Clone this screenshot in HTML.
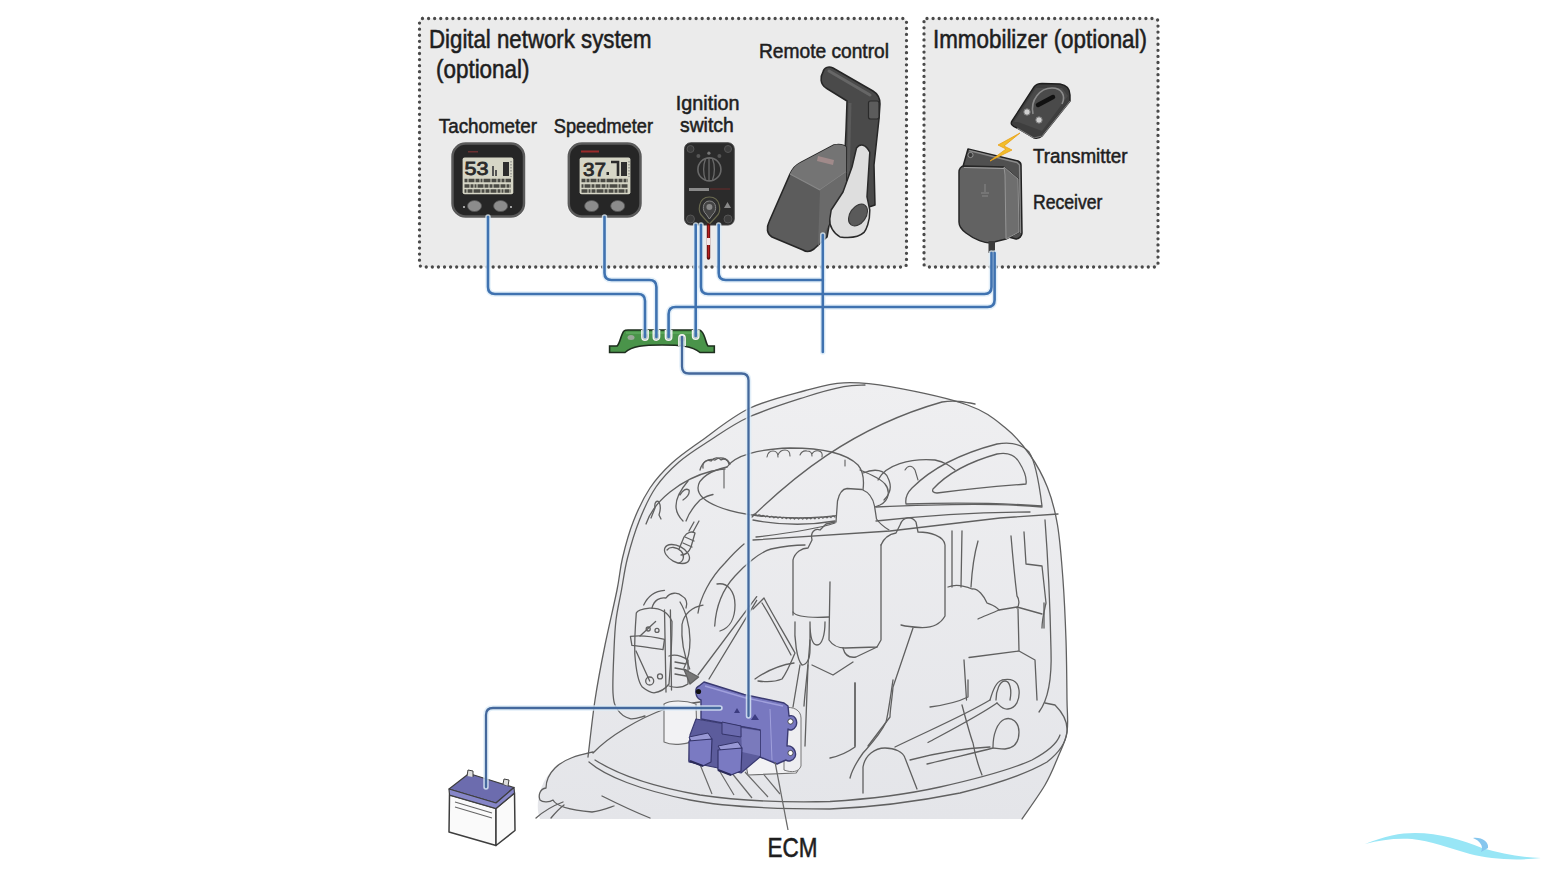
<!DOCTYPE html>
<html><head><meta charset="utf-8">
<style>
html,body{margin:0;padding:0;background:#fff;width:1560px;height:876px;overflow:hidden}
svg{display:block}
text{font-family:"Liberation Sans",sans-serif;fill:#1e1e1e;stroke:#1e1e1e;stroke-width:0.55px}
</style></head><body>
<svg width="1560" height="876" viewBox="0 0 1560 876">
<!-- boxes -->
<g id="boxes">
<rect x="419.5" y="18.5" width="487" height="248.5" rx="3" fill="#ebebeb" stroke="#4a4a4a" stroke-width="3.3" stroke-dasharray="0 6.08" stroke-linecap="round"/>
<rect x="924" y="18.5" width="234" height="248.5" rx="3" fill="#ebebeb" stroke="#4a4a4a" stroke-width="3.3" stroke-dasharray="0 6.08" stroke-linecap="round"/>
</g>

<!-- devices -->
<g id="tach">
<rect x="451" y="142" width="74.5" height="76" rx="14" fill="#fff" opacity="0.6"/>
<rect x="452.5" y="143.5" width="71.5" height="73" rx="13" fill="#262626" stroke="#5a5a5a" stroke-width="2.5"/>
<rect x="462.6" y="157.6" width="50.7" height="36.6" rx="2" fill="#d6d6c6"/>
<text x="464.5" y="175" font-size="18" style="fill:#2a2a2a;stroke:#2a2a2a;stroke-width:0.8px" textLength="24" lengthAdjust="spacingAndGlyphs">53</text>
<path d="M493 176 V166 M496 170 V176" stroke="#555" stroke-width="2" fill="none"/>
<rect x="503" y="162" width="6" height="14" fill="#2e2e2e"/>
<path d="M511 161 V177" stroke="#888" stroke-width="1.2" stroke-dasharray="1.5 1.5"/>
<g stroke="#4a4a44" stroke-width="3.6" fill="none">
<path d="M464.5 180.5 H511" stroke-dasharray="3 1 6 1 4 1 2 1 7 1 5 1 3 1"/>
<path d="M464.5 186 H511" stroke-dasharray="5 1 3 1 2 1 6 1 4 1 3 1 6 1"/>
<path d="M464.5 191 H511" stroke-dasharray="2 1 5 1 7 1 3 1 4 1 6 1 3 1"/>
</g>
<rect x="468" y="151" width="10" height="1.5" fill="#6a3030"/>
<ellipse cx="474.5" cy="206" rx="7" ry="5.5" fill="#8c8c8c" stroke="#555" stroke-width="0.8"/>
<ellipse cx="500.6" cy="206" rx="7" ry="5.5" fill="#8c8c8c" stroke="#555" stroke-width="0.8"/>
<circle cx="464" cy="207" r="1" fill="#ccc"/><circle cx="511" cy="207" r="1" fill="#ccc"/>
</g>
<g id="speedo">
<rect x="567" y="142" width="75" height="76" rx="14" fill="#fff" opacity="0.6"/>
<rect x="568.8" y="143.5" width="71.7" height="73" rx="13" fill="#262626" stroke="#5a5a5a" stroke-width="2.5"/>
<rect x="579.6" y="157.6" width="50.8" height="36.6" rx="2" fill="#d6d6c6"/>
<text x="583" y="175.5" font-size="18" style="fill:#2a2a2a;stroke:#2a2a2a;stroke-width:0.8px" textLength="23" lengthAdjust="spacingAndGlyphs">37</text>
<rect x="606.5" y="172" width="2.5" height="3" fill="#2a2a2a"/>
<path d="M611 162 H618 V176" stroke="#2a2a2a" stroke-width="2.6" fill="none"/>
<rect x="621" y="162" width="6" height="14" fill="#2e2e2e"/>
<path d="M629 161 V177" stroke="#888" stroke-width="1.2" stroke-dasharray="1.5 1.5"/>
<g stroke="#4a4a44" stroke-width="3.6" fill="none">
<path d="M581.5 180.5 H628" stroke-dasharray="4 1 3 1 6 1 2 1 5 1 7 1 3 1"/>
<path d="M581.5 186 H628" stroke-dasharray="2 1 6 1 3 1 5 1 4 1 2 1 8 1"/>
<path d="M581.5 191 H628" stroke-dasharray="6 1 2 1 4 1 7 1 3 1 5 1 3 1"/>
</g>
<rect x="581" y="150.5" width="18" height="2" fill="#9a2a2a"/>
<ellipse cx="591.6" cy="206" rx="7" ry="5.5" fill="#8c8c8c" stroke="#555" stroke-width="0.8"/>
<ellipse cx="617.7" cy="206" rx="7" ry="5.5" fill="#8c8c8c" stroke="#555" stroke-width="0.8"/>
</g>
<g id="ign">
<rect x="684.6" y="142.8" width="49.6" height="82.2" rx="6" fill="#2b2b2b" stroke="#444" stroke-width="1"/>
<circle cx="709.4" cy="169.4" r="11.5" fill="none" stroke="#6a6a6a" stroke-width="1.6"/>
<path d="M705.5 159 C703 165 703 174 705.5 180 M712.5 159 C715 165 715 174 712.5 180 M709 158 V181" stroke="#6a6a6a" stroke-width="1.3" fill="none"/>
<circle cx="698.4" cy="156" r="2" fill="#555"/><circle cx="708.9" cy="153.2" r="1.6" fill="#777"/><circle cx="719.4" cy="156" r="2" fill="#555"/>
<circle cx="690.5" cy="149" r="3.5" fill="#3c3c3c" stroke="#555"/>
<circle cx="728" cy="149" r="3.5" fill="#3c3c3c" stroke="#555"/>
<circle cx="690.5" cy="219" r="4" fill="#3c3c3c" stroke="#555"/>
<circle cx="728" cy="219" r="4" fill="#3c3c3c" stroke="#555"/>
<rect x="689" y="188" width="20" height="3" fill="#8a8a8a"/>
<rect x="710" y="188" width="20" height="2" fill="#4a2a2a"/>
<path d="M709.4 197 C698 197 697 212 703 217 L709.4 224 L716 217 C722 212 721 197 709.4 197Z" fill="#2e2e2e" stroke="#6a6a50" stroke-width="1.2"/>
<path d="M709.4 201 C702 201 702 211 706 214 L709.4 219 L713 214 C717 211 717 201 709.4 201Z" fill="#444" stroke="#888" stroke-width="1"/>
<circle cx="709.4" cy="207" r="3" fill="#888"/>
<path d="M724 208 L727.5 202 L731 208Z" fill="#888"/>
</g>
<g id="remote" stroke-linejoin="round">
<path d="M823 72 C824 67 829 66 833 68 L873 91 C878 94 880 99 880 104 L879 119 L874 165 L875 205 L866 208 L843 192 L846 130 L847 101 L826 88 C820 84 820 77 823 72 Z" fill="#4a4a4a" stroke="#262626" stroke-width="1.5"/>
<path d="M829 71 L870 95" stroke="#666" stroke-width="3" stroke-linecap="round"/>
<path d="M850 103 L848 185" stroke="#5a5a5a" stroke-width="3"/>
<rect x="868.5" y="101" width="10.5" height="18" rx="2" fill="#5c5c5c" stroke="#2a2a2a" stroke-width="1.2"/>
<path d="M800 163 L834 145 C840 144 844 145 846 147 L846 185 L830 220 L827 237 L814 249 C810 252 806 252 803 250 L772 237 C767 234 766 228 769 222 L790 174 C793 168 796 165 800 163 Z" fill="#5c5c5c" stroke="#262626" stroke-width="1.6"/>
<path d="M800 163 L834 145 C840 144 844 145 846 147 L846 172 L820 190 L790 174 C793 168 796 165 800 163 Z" fill="#747474"/>
<path d="M790 174 L820 190 L846 172" stroke="#888" stroke-width="1.2" fill="none"/>
<path d="M820 190 L846 172 L846 185 L830 222 L818 247 Z" fill="#6a6a6a"/>
<path d="M818 156 L834 160 L833 165 L817 161 Z" fill="#a08a8a"/>
<path d="M856.5 148 C860 143 866 144 869.8 152.3 L867 196.8 L869.8 210 C870 222 866 230 864 232.4 C858 238 848 238 840 236.9 C834 234 829 226 829.8 219 L831.2 210 L843 192 L852 167 Z" fill="#dedede" stroke="#2a2a2a" stroke-width="1.5"/>
<ellipse cx="858" cy="215" rx="12" ry="8" transform="rotate(-55 858 215)" fill="#5a5a5a" stroke="#333" stroke-width="1"/>
</g>
<g id="transmitter" stroke-linejoin="round">
<path d="M1012 121 L1034 87 C1036 84 1039 83.5 1042 83.5 L1060 84 C1066 85 1070 89 1070 95 L1070 101 L1042 136 C1040 138 1037 138.5 1034 138 L1017 128 C1012 126 1010 124 1012 121Z" fill="#3e3e3e" stroke="#1e1e1e" stroke-width="1.4"/>
<path d="M1014 122 L1036 88 L1062 88 L1068 96 L1042 131 L1018 122 Z" fill="#4a4a4a"/>
<path d="M1033 114 C1030 100 1040 88 1052 88 C1062 88 1066 96 1062 104" fill="none" stroke="#8a8a8a" stroke-width="1.6"/>
<path d="M1038 105 L1053 97" stroke="#111" stroke-width="4.5" stroke-linecap="round"/>
<circle cx="1027" cy="112" r="3.2" fill="#cfcfcf" stroke="#777" stroke-width="1"/>
<circle cx="1039" cy="120" r="3.2" fill="#cfcfcf" stroke="#777" stroke-width="1"/>
<path d="M1017 128 L1034 138 L1042 136 L1070 101" fill="none" stroke="#777" stroke-width="1.2"/>
</g>
<g id="receiver" stroke-linejoin="round">
<path d="M968 149 L1018 161 C1020 162 1021 163 1021 165 L1022 233 C1022 236 1019 239 1016 239 L975 228 L962 170 Z" fill="#505050" stroke="#222" stroke-width="1.5"/>
<path d="M969 150.5 L1017 162.5 L1019.5 165 L1020.5 233" fill="none" stroke="#8a8a8a" stroke-width="1.3"/>
<circle cx="970.5" cy="155" r="2.6" fill="#3a3a3a" stroke="#999" stroke-width="0.9"/>
<circle cx="1014" cy="232.5" r="2.6" fill="#3a3a3a" stroke="#999" stroke-width="0.9"/>
<path d="M964 166 L1004 167 L1018 179 L1019 232 L1006 239 L990 243 C985 243 975 240 966 233 C962 230 959 227 959 222 L959 172 C959 169 961 166 964 166 Z" fill="#626262" stroke="#262626" stroke-width="1.5"/>
<path d="M1004 167 L1018 179 L1019 232 L1006 239 L1005 175 Z" fill="#6e6e6e" stroke="#9a9a9a" stroke-width="0.9"/>
<path d="M964 167.5 L1004 168.5" stroke="#a0a0a0" stroke-width="1.2" fill="none"/>
<path d="M985 184 L985 192 M981 193 L989 193 M982 196 L988 196" stroke="#888" stroke-width="1"/>
<rect x="988.5" y="241" width="6.5" height="12" fill="#3a3a3a"/>
<path d="M1020 133 L998 145 L1006 149 L990 161 L1012 150 L1004 146 Z" fill="#f2be2a" stroke="#e8a018" stroke-width="0.8"/>
</g>


<!-- engine -->
<defs><linearGradient id="cg" x1="0" y1="380" x2="0" y2="820" gradientUnits="userSpaceOnUse"><stop offset="0" stop-color="#efeff1"/><stop offset="1" stop-color="#e4e5e9"/></linearGradient></defs>
<g id="engine" fill="none" stroke="#606060" stroke-width="1.3" stroke-linecap="round" stroke-linejoin="round">
<path id="cowlfill" d="M588.0 757.0 C589.2 747.5 592.2 718.7 595.0 700.0 C597.8 681.3 601.3 663.3 605.0 645.0 C608.7 626.7 614.1 604.5 617.0 590.0 C619.9 575.5 619.8 569.5 622.5 558.0 C625.2 546.5 628.9 532.7 633.5 521.0 C638.1 509.3 643.6 497.7 650.0 488.0 C656.4 478.3 663.5 470.8 672.0 463.0 C680.5 455.2 688.2 450.1 701.0 441.0 C713.8 431.9 731.6 416.9 749.0 408.5 C766.4 400.1 789.6 394.8 805.4 390.5 C821.2 386.2 829.7 383.4 843.8 382.8 C857.9 382.2 869.4 383.0 890.0 386.7 C910.6 390.4 948.3 398.2 967.5 405.0 C986.7 411.8 994.6 419.2 1005.0 427.5 C1015.4 435.8 1022.9 445.0 1030.0 455.0 C1037.1 465.0 1042.9 475.8 1047.5 487.5 C1052.1 499.2 1054.9 509.6 1057.5 525.0 C1060.1 540.4 1061.6 560.8 1063.0 580.0 C1064.4 599.2 1065.3 620.0 1066.0 640.0 C1066.7 660.0 1066.8 684.7 1067.0 700.0 C1067.2 715.3 1068.5 722.5 1067.0 732.0 C1065.5 741.5 1061.7 748.2 1058.0 757.0 C1054.3 765.8 1051.0 774.7 1045.0 785.0 C1039.0 795.3 1025.8 813.3 1022.0 819.0 L652 819 L540 819 C537 812 537 800 540 792 C545 775 555 765 570 758 L589 752 Z" fill="url(#cg)" stroke="none"/>
<!-- outer cowl -->
<path d="M588.0 757.0 C589.2 747.5 592.2 718.7 595.0 700.0 C597.8 681.3 601.3 663.3 605.0 645.0 C608.7 626.7 614.1 604.5 617.0 590.0 C619.9 575.5 619.8 569.5 622.5 558.0 C625.2 546.5 628.9 532.7 633.5 521.0 C638.1 509.3 643.6 497.7 650.0 488.0 C656.4 478.3 663.5 470.8 672.0 463.0 C680.5 455.2 688.2 450.1 701.0 441.0 C713.8 431.9 731.6 416.9 749.0 408.5 C766.4 400.1 789.6 394.8 805.4 390.5 C821.2 386.2 829.7 383.4 843.8 382.8 C857.9 382.2 869.4 383.0 890.0 386.7 C910.6 390.4 948.3 398.2 967.5 405.0 C986.7 411.8 994.6 419.2 1005.0 427.5 C1015.4 435.8 1022.9 445.0 1030.0 455.0 C1037.1 465.0 1042.9 475.8 1047.5 487.5 C1052.1 499.2 1054.9 509.6 1057.5 525.0 C1060.1 540.4 1061.6 560.8 1063.0 580.0 C1064.4 599.2 1065.3 620.0 1066.0 640.0 C1066.7 660.0 1066.8 684.7 1067.0 700.0 C1067.2 715.3 1068.5 722.5 1067.0 732.0 C1065.5 741.5 1061.7 748.2 1058.0 757.0 C1054.3 765.8 1051.0 774.7 1045.0 785.0 C1039.0 795.3 1025.8 813.3 1022.0 819.0"/>
<path d="M645.0 716.0 C642.5 716.4 634.6 719.7 630.0 718.6 C625.4 717.5 620.3 713.8 617.5 709.5 C614.7 705.2 613.6 702.9 613.0 693.0 C612.4 683.1 613.5 662.2 614.0 650.0 C614.5 637.8 614.8 630.0 616.0 620.0 C617.2 610.0 619.6 600.3 621.5 590.0 C623.4 579.7 624.5 569.7 627.5 558.0 C630.5 546.3 634.8 531.8 639.5 520.0 C644.2 508.2 649.4 496.7 656.0 487.0 C662.6 477.3 670.2 469.7 679.0 462.0 C687.8 454.3 697.3 448.5 709.0 441.0 C720.7 433.5 732.9 424.3 749.0 417.0 C765.1 409.7 789.6 402.1 805.4 397.0 C821.2 391.9 833.9 388.7 843.8 386.7 C853.7 384.7 861.5 385.3 865.0 385.0"/>
<path d="M1045 520 C1048 560 1050 600 1051 650 C1052 680 1048 700 1039 712"/>
<!-- lower cowl rims -->
<path d="M595 760 C620 776 660 788 700 795 C740 801 790 802.5 830 801.5 C870 799 913 793 940 787 C980 778 1010 770 1032 760 C1047 752 1057 744 1060 735"/>
<path d="M589 762 C605 776 640 790 690 800 C720 806 760 809 830 809 C880 807 930 799 960 793 C1000 783 1030 772 1047 762 C1060 752 1066 742 1067 732 C1068 722 1062 712 1055 705 L1045 703"/>
<path d="M593 753 C609 736 640 718 665 709 C680 705 690 703 700 702"/>
<!-- tiller -->
<path d="M593 752 C580 755 565 758 555 768 C548 775 546 782 546 788 C540 789 538 795 540 800 C543 803 550 802 553 800 C556 806 570 810 592 812 C600 811 608 808 614 806"/>
<path d="M536 818 C545 810 555 805 563 802"/><path d="M551 818 C556 812 560 808 564 805"/><path d="M602 796 C620 805 635 812 650 818"/>
<!-- top diagonal -->
<!-- flywheel -->
<path d="M727 467 C712 470 698 478 698 488 C698 503 730 513 760 516 C800 520 850 518 880 505 C890 500 890 490 885 484 C880 478 870 474 860 470" fill="url(#cg)"/>
<path d="M727 467 C735 455 760 449 790 448 C820 448 845 452 858 465 C864 472 864 482 863 490"/>
<path d="M767 457 Q768 451 773 451 Q778 451 778 457 M778 455 Q780 450 785 450 Q790 450 790 456 M800 455 Q802 450 807 451 Q812 451 812 456 M812 454 Q814 450 819 451 Q823 452 822 457" stroke-width="1.1"/>
<path d="M700 470 C702 462 708 458 715 460 C720 456 727 458 730 464"/>
<path d="M724 470 L724 488 M845 460 L845 466" stroke-width="1.1"/>
<path d="M753 515 Q755.1 513.1 757.2 515.7 Q759.3 513.8 761.4 516.3 Q763.5 514.4 765.6 516.8 Q767.6 514.9 769.7 517.3 Q771.8 515.3 773.9 517.8 Q775.9 515.7 778.0 518.1 Q780.1 516.1 782.2 518.4 Q784.2 516.4 786.3 518.7 Q788.3 516.6 790.4 518.9 Q792.4 516.7 794.5 519.0 Q796.5 516.8 798.6 519.1 Q800.6 516.9 802.7 519.1 Q804.7 516.9 806.8 519.0 Q808.8 516.8 810.8 518.9 Q812.8 516.6 814.9 518.8 Q816.9 516.4 818.9 518.5 Q820.9 516.2 823.0 518.2 Q825.0 515.9 827.0 517.9 Q829.0 515.5 831.0 517.5 Q833.0 515.0 835.0 517.0" stroke-width="1.2"/>
<path d="M753 520 Q795 528 835 521"/>
<path d="M752 517 C790 480 850 428 942 402 C955 400 965 402 975 404"/>
<!-- tall block b top -->
<path d="M835 545 L836 522 L837.5 501 C839 494 842 489 847 488.5 L862 489.5 C868 492 873 498 874.5 506 L876.5 519 C880 524 884 527 889 530 L889 545 Z" fill="url(#cg)" stroke="none"/>
<path d="M836 522 L837.5 501 C839 494 842 489 847 488.5 L862 489.5 C868 492 873 498 874.5 506 L876.5 519 C880 524 884 527 889 530"/>
<path d="M863 473 C875 468 885 470 888 478 C892 486 890 494 884 500"/>
<!-- long lines -->
<path d="M753 540 L890 531 L1000 518 L1058 514"/>
<path d="M756 537 C790 533 820 528 835 523"/>
<path d="M876 507 C920 505 990 502 1042 507"/>
<path d="M876 521 C930 515 990 512 1030 512"/>
<!-- scoop -->
<path d="M906 504 C905 498 908 492 912 488 C930 470 955 455 997 444 C1010 442 1022 444 1029 452 C1036 462 1040 490 1042 506 C1000 503 940 503 906 504Z"/>
<path d="M933 489 C945 476 965 463 997 454 C1008 452 1015 455 1019 462 C1024 470 1027 478 1026 484 C1000 486 960 490 937 493 C933 493 932 491 933 489Z"/>
<path d="M878 480 C885 465 910 458 935 460 C945 462 950 466 955 470" />
<path d="M905 470 C908 465 912 465 915 470 L918 480" stroke-width="1.1"/>
<!-- cylinder a -->
<path d="M793 615 L793 560 C795 552 802 548 808 548 L812 540 C810 532 815 528 820 530 L826 524 L835 522"/>
<path d="M793 612 C796 617 808 618 829 617"/>
<path d="M795 622 C794 640 797 660 802 665 C806 665 810 660 810 650 L810 622 M810 622 C810 635 812 645 817 645 C822 645 825 635 825 622"/>
<path d="M800 665 L793 707 M808 665 L805 746"/>
<!-- block b -->
<path d="M830 582 L829 640 C833 646 840 648 845 648 L877 647 L881 640 L881 545"/>
<path d="M843 648 C845 656 850 658 856 657 L877 647"/>
<path d="M812 665 L833 675 L853 662 M855 683 L855 746"/>
<!-- cylinder c -->
<path d="M881 545 C884 538 890 534 896 533 L900 525 C903 516 912 516 916 522 L918 532 C930 532 944 536 945 545 L945 616 C940 625 930 628 920 627.5 C910 627 905 626 901 625"/>
<path d="M913 628 L893 687 C892 700 890 710 890 717 L868 746"/>
<path d="M952 531 L952 587 M962 531 L961 587"/>
<!-- right jagged block -->
<path d="M948 587 C955 584 965 586 972 589 C978 588 984 596 987 603 C992 605 996 606 999 610 C990 614 982 617 978 619"/>
<path d="M1011 536 C1013 560 1015 580 1017 596 C1020 600 1019 606 1017 608 M999 610 L1017 607 L1042 614"/>
<path d="M1024 532 L1026 564 L1042 566 L1046 603 C1044 612 1042 620 1042 628"/>
<path d="M1018 609 L1019 651 L969 657.5 M1019 651 L1035 660 L1037 700"/>
<path d="M964 660 L966.5 700 M1044 603 L1044 628"/>
<path d="M996 700 C996 690 1000 681 1005 681 C1010 681 1012 690 1010 700"/>
<path d="M971 587 C972 570 974 555 978 541"/>
<!-- hoses -->
<path d="M895 747 C930 730 965 715 990 700 M928 742.5 C955 728 980 715 997 703"/>
<path d="M990 700 C993 690 996 682 1002 680 C1010 678 1018 680 1019 690 C1020 700 1016 708 1008 709 C1003 710 1000 706 997 703"/>
<path d="M910 760 C940 752 970 748 990 747 M927 764 C950 758 975 753 993 748"/>
<path d="M993 747 C993 735 997 722 1005 719 C1012 717 1019 722 1019 732 C1019 742 1015 748 1005 749 C1000 749 995 748 993 748"/>
<path d="M962 705 C966 720 970 735 973 743 C975 755 978 765 982 775"/>
<path d="M930 707 C945 705 958 702 968 697 L968 680"/>
<!-- bottom block -->
<path d="M863 793 L863 767 C865 755 875 748 885 748 C895 748 903 752 905 758 L917 789"/>
<path d="M855 683 L855 747 C848 752 840 756 830 758"/>
<path d="M893 680 C890 700 888 715 886 722 C880 735 870 745 863 753 C858 760 852 770 850 778"/>
<!-- left parts -->
<path d="M646 524 C650 512 660 500 670 492 C685 480 700 474 712 471 C718 470 722 469 725 469"/>
<path d="M651 518 L655 508 C654 502 657 500 659 502 C661 506 660 512 659 515 L661 519"/>
<path d="M688 481 C682 488 676 498 676 506 C676 513 680 518 683 521 M680 495 C683 490 686 488 689 490 C690 494 686 498 683 500"/>
<path d="M686 521 C690 510 697 503 700 500 C705 497 710 495 713 494.5"/>
<path d="M703 468 C702 462 707 459 711 461 C714 457 719 457 721 460 C724 458 728 459 729 464"/>
<ellipse cx="677" cy="554" rx="13.5" ry="8" transform="rotate(28 677 554)"/>
<path d="M667 550 C670 546 677 547 681 551 C685 555 684 561 679 563"/>
<path d="M679 549 L684 537 C687 532 692 531 695 533 L691 547 C689 552 685 555 681 555"/>
<path d="M685 537 L694 541 M683 543 L692 547 M693 532 L699 521 M689 531 L694 522"/>
<!-- throttle body area -->
<path d="M649.7 608.2 C642 609 637 611 636.3 613 C635 630 634.5 645 634.8 654 C636 670 638 682 642.3 687 C646 690 650 692.5 654 692.8 C660 692 666 688 669 684 C671 660 672 640 672 621.5 C668 612 660 608 649.7 608.2Z"/>
<path d="M630.4 636.4 C640 635 655 637 664.5 639.3 L663 649.7 C650 648 640 646 631.9 645.3 Z"/>
<path d="M664.5 610 L666 692 M670.4 610 L671.5 690"/>
<circle cx="648.2" cy="629" r="2"/><circle cx="657" cy="630.4" r="2"/><circle cx="649.7" cy="681" r="4"/><circle cx="660" cy="676.4" r="2.5"/>
<path d="M636 651 L649.7 681 M655.6 621.5 L640 636"/>
<path d="M669 656 C675 654 682 656 688 660 L688 684 C682 688 675 688 669 686"/>
<path d="M675 662 L686 664 M675 668 L686 670 M675 674 L686 676"/>
<path d="M683.8 669 L698.6 677 L690 684 Z" fill="#777"/>
<path d="M643.7 605 C648 596 656 591 664.5 590.4 M652 608 C654 600 660 597 666 598 C670 592 678 592 682 596 C686 598 688 603 686 608"/>
<path d="M689.7 669 C684 655 681 640 682 624.5 C684 614 692 607 703 605.2"/>
<path d="M698 613 C700 598 710 578 725 563 C732 555 738 549 744 544"/>
<path d="M714.7 626 C716 605 722 590 735 576 C745 565 760 552 771 549 C785 546 798 545 805 545"/>
<path d="M698 675 L756.7 596.6 M709 679 L756.7 600.3"/>
<path d="M717 584 C728 582 735 592 735 605 C735 618 730 628 720 631"/>
<path d="M753 609 L764 598 C770 610 785 635 795 653 C790 665 785 675 782 679 C775 682 765 682 758 681"/>
<path d="M762 603 C770 615 783 640 791 655"/>
<path d="M680 602 C685 610 690 625 690 640 C690 650 688 660 684 668"/>
<path d="M755 679 C765 672 780 665 794 663"/>
<path d="M810 640 C808 670 805 690 804 706"/>
</g>

<!-- ecm -->
<g id="ecm" stroke-linejoin="round">
<path d="M664 704 C670 700 685 700 696 704 L697 738 C690 745 672 746 664 742 Z" fill="#f2f2f4" stroke="#707070" stroke-width="1.1"/>
<path d="M699 762 L712 794 M716 765 L734 795 M731 772 L752 798 M745 772 L768 797 M760 770 L780 794" stroke="#6a6a6a" stroke-width="1.2" fill="none"/>
<path d="M744 756 L792 760 C798 762 800 770 796 773 L748 775 Z" fill="#f2f2f4" stroke="#707070" stroke-width="1.1"/>
<path d="M784 708 C793 706 801 710 801 718 L801 766 C799 772 792 773 784 770 Z" fill="#eeeef1" stroke="#777" stroke-width="1"/>
<path d="M704 682 L744 694.5 L784 703 L788 706 L789 716 C795 714 798 721 796 726 C794 730 790 731 788 729 L787 746 C793 745 797 752 795 757 C793 761 788 762 786 760 L777 764 L760 757 L760 730 L701 719 L701 700 C695 698 694 688 699 686 Z" fill="#7878c0" stroke="#3a3a72" stroke-width="1.4"/>
<path d="M705 686 L744 697.5 L783 706" stroke="#a0a0dc" stroke-width="1.4" fill="none"/>
<path d="M770 709 L772 760" stroke="#a0a0dc" stroke-width="1" fill="none"/>
<path d="M696 719 L760 730 L760 757 L741 773 L718 768 L689 762 L690 735 Z" fill="#5c5c9c" stroke="#3a3a72" stroke-width="1.2"/>
<path d="M741 728 L760 731 L760 756 L742 752 Z" fill="#7a7abc"/>
<path d="M722 722 L741 726 L741 737 L722 734 Z" fill="#6a6aae" stroke="#34346a" stroke-width="1"/>
<path d="M689 737 L708 733 L712 739 L692 743 Z" fill="#9898d4" stroke="#34346a" stroke-width="1"/>
<path d="M689 741 L712 739 L711 762 L703 766 L689 761 Z" fill="#7a7ac2" stroke="#34346a" stroke-width="1.2"/>
<path d="M718 746 L738 742 L742 748 L722 752 Z" fill="#9898d4" stroke="#34346a" stroke-width="1"/>
<path d="M718 750 L742 748 L741 771 L731 775 L718 770 Z" fill="#7a7ac2" stroke="#34346a" stroke-width="1.2"/>
<path d="M690 761 L703 766 M718 770 L731 775" stroke="#2a2a58" stroke-width="2" fill="none"/>
<circle cx="790.5" cy="721.5" r="2.6" fill="#fff" stroke="#333" stroke-width="0.8"/>
<circle cx="790.5" cy="753" r="2.6" fill="#fff" stroke="#333" stroke-width="0.8"/>
<circle cx="698.5" cy="691.5" r="2.6" fill="#111"/>
<path d="M737 708 L740 713 L734 713Z M755 714 L759 720 L751 720Z" fill="#3c3c80"/>
</g>
<path d="M775 762 L788 830" stroke="#6a6a6a" stroke-width="1.3" fill="none"/>
<!-- battery -->
<g id="battery" stroke="#3e3e3e" stroke-width="1.5" stroke-linejoin="round">
<path d="M449.5 795 L496 808.5 L496 845.5 L449 832 Z" fill="#fafafa"/>
<path d="M496 808.5 L514.5 793 L515 830.5 L496 845.5 Z" fill="#fafafa"/>
<path d="M449 789 L469 773.5 L514 787.5 L496 803 Z" fill="#6c6cae" stroke-width="1.2"/>
<path d="M449 789 L496 803 L514 787.5 L514.5 793 L496 808.5 L449.5 795 Z" fill="#8686c8" stroke-width="1.2"/>
<path d="M455 802 L492 813 M455 807 L492 818" stroke="#666" stroke-width="1.1" fill="none"/>
<path d="M467 776 L468 770 L473 771 L473 777 M503 784 L504 779 L509 780 L508 786" fill="#ddd" stroke-width="1"/>
</g>
<!-- wires -->
<g id="hub">
<path d="M609.6 346 L617 346 C620 344 621 334 624 331 C625 330 626 330 628 330 L698 330 C700 330 701 330 702 332 C705 335 706 344 708 346 L714.3 346 L714.3 352.5 L700 352.5 C692 346 680 345 662 345 C644 345 632 346 625 352.5 L609.6 352.5 Z" fill="#4a944a" stroke="#1e2e1e" stroke-width="1.6"/>
<path d="M626 333 L699 333" stroke="#6ab86a" stroke-width="1.2"/>
<ellipse cx="631" cy="337.5" rx="3.5" ry="2.5" fill="#9aa89a"/>
<g fill="#2a4a2a" stroke="none">
<circle cx="645" cy="337" r="3.6"/><circle cx="656.4" cy="337" r="3.6"/><circle cx="668.6" cy="337" r="3.6"/><circle cx="682" cy="338" r="3.6"/><circle cx="695.7" cy="336" r="3.6"/>
</g>
</g>
<g id="wires" fill="none" stroke-linecap="round" stroke-linejoin="round">
<g stroke="#dcecf8" stroke-width="5.5" opacity="0.8">
<path d="M488 217 V287 Q488 294 495 294 H638 Q645 294 645 301 V337"/>
<path d="M604.5 217 V273 Q604.5 280 611.5 280 H649.4 Q656.4 280 656.4 287 V337"/>
<path d="M994.6 253 V300 Q994.6 307 987.6 307 H675.6 Q668.6 307 668.6 314 V337"/>
<path d="M695.7 225 V336"/>
<path d="M701 225 V287 Q701 294 708 294 H984.5 Q991.5 294 991.5 287 V253"/>
<path d="M718.7 225 V273 Q718.7 280 725.7 280 H822.8"/>
<path d="M822.8 235 V352"/>
<path d="M682 337 V366.5 Q682 373.5 689 373.5 H741.5 Q748.5 373.5 748.5 380.5 V716"/>
<path d="M486 787 V715 Q486 708 493 708 H720"/>
</g>
<g stroke="#3f72b0" stroke-width="2.6">
<path d="M488 217 V287 Q488 294 495 294 H638 Q645 294 645 301 V337"/>
<path d="M604.5 217 V273 Q604.5 280 611.5 280 H649.4 Q656.4 280 656.4 287 V337"/>
<path d="M994.6 253 V300 Q994.6 307 987.6 307 H675.6 Q668.6 307 668.6 314 V337"/>
<path d="M695.7 225 V336"/>
<path d="M701 225 V287 Q701 294 708 294 H984.5 Q991.5 294 991.5 287 V253"/>
<path d="M718.7 225 V273 Q718.7 280 725.7 280 H822.8"/>
<path d="M822.8 235 V352"/>
</g>
<g stroke="#44689c" stroke-width="2.3">
<path d="M682 337 V366.5 Q682 373.5 689 373.5 H741.5 Q748.5 373.5 748.5 380.5 V716"/>
<path d="M486 787 V715 Q486 708 493 708 H720"/>
</g>
<path d="M708.5 225 V258" stroke="#5a1010" stroke-width="3.4"/>
<path d="M708.5 226 V257" stroke="#b82020" stroke-width="1.6"/>
<rect x="706.8" y="238" width="3.4" height="7" fill="#f4e8e8" stroke="none"/>
</g>
<g id="hubrings" fill="none" stroke="#f4f4f4" stroke-width="1.4">
<path d="M641.8 330 V337 A3.2 3.2 0 0 0 648.2 337 V330"/>
<path d="M653.2 330 V337 A3.2 3.2 0 0 0 659.6 337 V330"/>
<path d="M665.4 330 V337 A3.2 3.2 0 0 0 671.8 337 V330"/>
<path d="M678.8 338 A3.2 3.2 0 0 1 685.2 338 V346"/>
<path d="M678.8 338 V346"/>
<path d="M692.5 330 V336 A3.2 3.2 0 0 0 698.9 336 V330"/>
</g>
<!-- texts -->
<g id="texts">
<text x="429" y="48.4" font-size="25" textLength="222.5" lengthAdjust="spacingAndGlyphs">Digital network system</text>
<text x="436" y="77.8" font-size="25" textLength="93.5" lengthAdjust="spacingAndGlyphs">(optional)</text>
<text x="759" y="57.5" font-size="21" textLength="130" lengthAdjust="spacingAndGlyphs">Remote control</text>
<text x="933" y="48.3" font-size="25" textLength="214" lengthAdjust="spacingAndGlyphs">Immobilizer (optional)</text>
<text x="438.8" y="132.5" font-size="21" textLength="98.2" lengthAdjust="spacingAndGlyphs">Tachometer</text>
<text x="553.8" y="132.5" font-size="21" textLength="99.2" lengthAdjust="spacingAndGlyphs">Speedmeter</text>
<text x="675.8" y="110" font-size="21" textLength="63.7" lengthAdjust="spacingAndGlyphs">Ignition</text>
<text x="680" y="131.8" font-size="21" textLength="53.7" lengthAdjust="spacingAndGlyphs">switch</text>
<text x="1033" y="163" font-size="21" textLength="94.5" lengthAdjust="spacingAndGlyphs">Transmitter</text>
<text x="1033" y="208.8" font-size="21" textLength="69.5" lengthAdjust="spacingAndGlyphs">Receiver</text>
<text x="767.5" y="857" font-size="27.5" textLength="50" lengthAdjust="spacingAndGlyphs">ECM</text>
<g id="watermark">
<path d="M1365 844 C1385 836 1400 833 1415 833 C1440 833 1462 840 1482 848 C1502 854 1520 857 1541 858 C1515 861 1490 859 1470 854 C1450 848 1430 841 1412 839 C1395 838 1380 840 1365 844Z" fill="#98e6f6"/>
<path d="M1473 838 C1482 837 1489 842 1488 848 L1481 852 C1484 846 1480 841 1473 838Z" fill="#86c6ee"/>
</g>
</svg>
</body></html>
